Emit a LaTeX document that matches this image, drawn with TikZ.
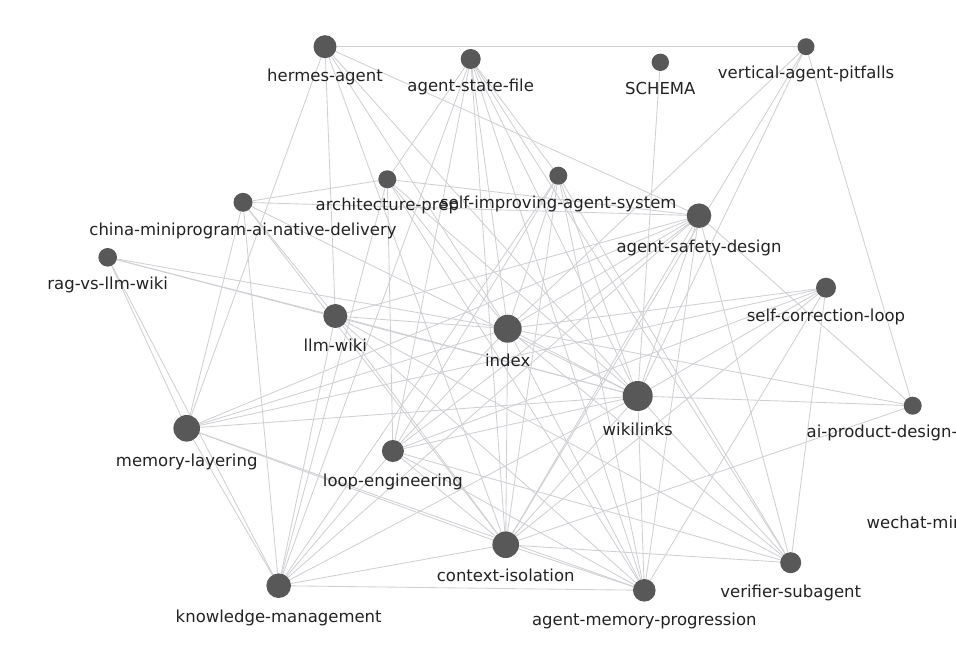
\documentclass[tikz,border=0pt]{standalone}
\usepackage{fontspec}
\setmainfont{DejaVu Sans}
\usetikzlibrary{backgrounds}
\definecolor{edgec}{HTML}{CFCFD4}
\definecolor{nodec}{HTML}{585858}
\definecolor{textc}{HTML}{222222}
\begin{document}
\begin{tikzpicture}[x=1pt,y=-1pt,
  dot/.style={circle,fill=nodec,inner sep=0pt,outer sep=0pt},
  lab/.style={anchor=base,text=textc,font=\fontsize{16.5}{18}\selectfont,inner sep=0pt},
  edge/.style={draw=edgec,line width=0.85pt}]
\useasboundingbox (0,0) rectangle (956,650);
\clip (0,0) rectangle (956,650);
% nodes
\node[dot,minimum size=23pt]   (H)   at (325,46.7) {};
\node[dot,minimum size=20pt]   (ASF) at (470.7,59) {};
\node[dot,minimum size=17.4pt] (SCH) at (660.3,62.3) {};
\node[dot,minimum size=17pt]   (VAP) at (806,46.7) {};
\node[dot,minimum size=18pt]   (AP)  at (387.3,179.3) {};
\node[dot,minimum size=18pt]   (SIA) at (558.3,175.7) {};
\node[dot,minimum size=19pt]   (CM)  at (243,202.3) {};
\node[dot,minimum size=24.6pt] (ASD) at (699,215.7) {};
\node[dot,minimum size=18.6pt] (RAG) at (107.7,257.3) {};
\node[dot,minimum size=20pt]   (SCL) at (826,287.7) {};
\node[dot,minimum size=24pt]   (LW)  at (335.3,316) {};
\node[dot,minimum size=28pt]   (IDX) at (507.7,328.7) {};
\node[dot,minimum size=30pt]   (WL)  at (637.7,396) {};
\node[dot,minimum size=18pt]   (APD) at (912.7,405.7) {};
\node[dot,minimum size=26.6pt] (ML)  at (186.7,428.3) {};
\node[dot,minimum size=22pt]   (LE)  at (392.9,451) {};
\node[dot,minimum size=26.6pt] (CI)  at (505.7,544.7) {};
\node[dot,minimum size=21pt]   (VS)  at (790.7,562.7) {};
\node[dot,minimum size=24.6pt] (KM)  at (278.7,585.7) {};
\node[dot,minimum size=22.6pt] (AMP) at (644.3,590.3) {};
% edges
\begin{scope}[on background layer]
\foreach \a/\b in {H/VAP,H/ASD,H/ML,H/LW,H/IDX,H/WL,H/CI,
  ASF/AP,ASF/SIA,ASF/KM,ASF/LE,ASF/CI,ASF/IDX,ASF/WL,ASF/AMP,ASF/VS,
  SCH/WL,VAP/IDX,VAP/WL,VAP/CI,VAP/APD,
  AP/CM,AP/ASD,AP/KM,AP/LE,AP/IDX,AP/WL,AP/AMP,
  CM/ASD,CM/LW,CM/WL,CM/ML,CM/KM,CM/CI,
  SIA/IDX,SIA/LE,SIA/CI,SIA/WL,SIA/AMP,SIA/VS,SIA/KM,
  ASD/IDX,ASD/LE,ASD/KM,ASD/CI,ASD/WL,ASD/AMP,ASD/VS,ASD/ML,ASD/LW,ASD/APD,
  RAG/ML,RAG/KM,RAG/LW,RAG/IDX,RAG/WL,
  SCL/IDX,SCL/LE,SCL/CI,SCL/AMP,SCL/VS,SCL/WL,SCL/ML,
  LW/IDX,LW/WL,LW/KM,LW/CI,LW/AMP,LW/VS,
  IDX/WL,IDX/CI,IDX/ML,IDX/LE,IDX/AMP,IDX/VS,IDX/APD,
  WL/CI,WL/AMP,WL/VS,WL/APD,WL/ML,WL/LE,WL/KM,
  ML/KM,ML/CI,ML/AMP,
  LE/KM,LE/CI,LE/AMP,LE/VS,
  CI/KM,CI/AMP,CI/VS,CI/APD,KM/AMP}
  \draw[edge] (\a) -- (\b);
\end{scope}
% labels
\node[lab] (Hl)   at (325,82)     {hermes-agent};
\node[lab] (ASFl) at (470.7,92)   {agent-state-file};
\node[lab] (SCHl) at (660.3,95)   {SCHEMA};
\node[lab] (VAPl) at (806,78.5)   {vertical-agent-pitfalls};
\node[lab] (APl)  at (387.3,210.5){architecture-prep};
\node[lab] (SIAl) at (558.3,208.3){self-improving-agent-system};
\node[lab] (CMl)  at (243,235.3)  {china-miniprogram-ai-native-delivery};
\node[lab] (ASDl) at (699,252)    {agent-safety-design};
\node[lab] (RAGl) at (107.7,289.5){rag-vs-llm-wiki};
\node[lab] (SCLl) at (826,321.7)  {self-correction-loop};
\node[lab] (LWl)  at (335.3,351.7){llm-wiki};
\node[lab] (IDXl) at (507.7,366.5){index};
\node[lab] (WLl)  at (637.7,435.5){wikilinks};
\node[lab,anchor=base west] (APDl) at (806.5,437.5) {ai-product-design-};
\node[lab] (MLl)  at (186.7,466)  {memory-layering};
\node[lab] (LEl)  at (392.9,486)  {loop-engineering};
\node[lab,anchor=base west] (WMl) at (866.5,528) {wechat-miniprogram};
\node[lab] (CIl)  at (505.7,581.7){context-isolation};
\node[lab] (VSl)  at (790.7,597)  {verifier-subagent};
\node[lab] (KMl)  at (278.7,622)  {knowledge-management};
\node[lab] (AMPl) at (644.3,625.3){agent-memory-progression};
\end{tikzpicture}
\end{document}
